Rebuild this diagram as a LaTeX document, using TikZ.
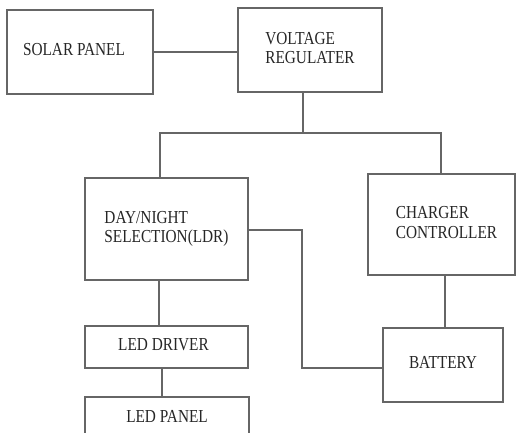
\documentclass[tikz,border=0pt]{standalone}
\usepackage{fontspec}
\setmainfont{Liberation Serif}
\usepackage{graphicx}
\newcommand{\boxtxt}[1]{\scalebox{1.02}[1.22]{\begin{tabular}{@{}l@{}}#1\end{tabular}}}
\begin{document}
\begin{tikzpicture}[x=1pt,y=-1pt,
  blk/.style={draw=black!60, line width=1.3pt, rectangle, inner sep=0pt, text=black!85,
    font=\fontsize{15}{16}\selectfont},
  wire/.style={draw=black!60, line width=1.3pt}]
\useasboundingbox (0,0) rectangle (521,432);
\clip (0,0) rectangle (521,432);
\fill[white] (0,0) rectangle (521,432);
\node[blk, minimum width=146pt, minimum height=84pt] (solar) at (80,52) {\boxtxt{SOLAR PANEL}\hspace*{12pt}};
\node[blk, minimum width=144pt, minimum height=84pt] (vr) at (310,50) {\boxtxt{VOLTAGE\\REGULATER}};
\node[blk, minimum width=163pt, minimum height=102pt] (dn) at (166.5,229) {\boxtxt{DAY/NIGHT\\SELECTION(LDR)}};
\node[blk, minimum width=147pt, minimum height=101pt] (ch) at (441.5,224.5) {\hspace*{10pt}\boxtxt{CHARGER\\CONTROLLER}};
\node[blk, minimum width=163pt, minimum height=42pt] (drv) at (166.5,347) {\boxtxt{LED DRIVER}\hspace*{6pt}};
\node[blk, minimum width=120pt, minimum height=74pt] (bat) at (443,365) {\boxtxt{BATTERY}};
\node[blk, minimum width=164pt, minimum height=42pt, text depth=0pt] (pan) at (167,418) {\raisebox{5pt}{\boxtxt{LED PANEL}}};
\coordinate (j) at (303,133);
\coordinate (jl) at (160,133);
\coordinate (jr) at (441,133);
\coordinate (c1) at (302,230);
\coordinate (c2) at (302,368);
\coordinate (cb) at (445,300);
\coordinate (d1) at (159,300);
\coordinate (d2) at (162,380);
\draw[wire] (solar.east) -- (solar.east -| vr.west);
\draw[wire] (vr.south -| j) -- (j);
\draw[wire] (dn.north -| jl) -- (jl) -- (jr) -- (ch.north -| jr);
\draw[wire] (dn.east |- c1) -- (c1) -- (c2) -- (bat.west |- c2);
\draw[wire] (ch.south -| cb) -- (bat.north -| cb);
\draw[wire] (dn.south -| d1) -- (drv.north -| d1);
\draw[wire] (drv.south -| d2) -- (pan.north -| d2);
\end{tikzpicture}
\end{document}
